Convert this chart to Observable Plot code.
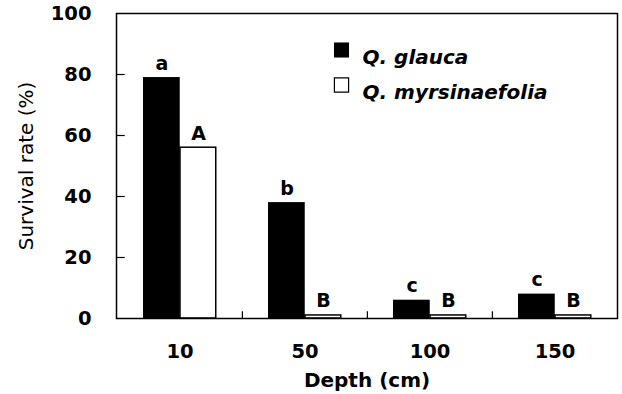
<!DOCTYPE html>
<html>
<head>
<meta charset="utf-8">
<script src="https://cdn.jsdelivr.net/npm/d3@7"></script>
<script src="https://cdn.jsdelivr.net/npm/@observablehq/plot@0.6"></script>
<style>
  html, body { margin: 0; padding: 0; background: white; }
  #chart { width: 622px; height: 394px; }
</style>
</head>
<body>
<div id="chart"></div>
<script>
// ---- data ----
const depths = ["10", "50", "100", "150"];
const species = ["Q. glauca", "Q. myrsinaefolia"];
const glaucaValues = [79, 38, 6, 8];
const myrsValues = [56, 1, 1, 1];
const glaucaLetters = ["a", "b", "c", "c"];
const myrsLetters = ["A", "B", "B", "B"];
const yTicks = [0, 20, 40, 60, 80, 100];
const xLabel = "Depth (cm)";
const yLabel = "Survival rate (%)";

const glaucaRows = depths.map((d, i) => ({depth: d, value: glaucaValues[i], letter: glaucaLetters[i]}));
const myrsRows = depths.map((d, i) => ({depth: d, value: myrsValues[i], letter: myrsLetters[i]}));

const W = 622, H = 394;
const mL = 116, mR = 5, mT = 13, mB = 76;
const band = (W - mL - mR) / depths.length;

const chart = Plot.plot({
  width: W, height: H,
  marginLeft: mL, marginRight: mR, marginTop: mT, marginBottom: mB,
  style: {fontFamily: "DejaVu Sans", fontSize: "19px", color: "black", background: "white"},
  x: {domain: depths, padding: 0},
  y: {domain: [0, 100]},
  marks: [
    Plot.barY(glaucaRows, {x: "depth", y: "value", fill: "black", insetLeft: 26, insetRight: band - 63}),
    Plot.barY(myrsRows, {x: "depth", y: "value", fill: "white", stroke: "black", strokeWidth: 1.5, insetLeft: 63, insetRight: band - 99}),
    Plot.text(glaucaRows, {x: "depth", y: "value", text: "letter", dx: -18, dy: -8, lineAnchor: "bottom", fontSize: 19, fontWeight: "bold"}),
    Plot.text(myrsRows, {x: "depth", y: "value", text: "letter", dx: 18.5, dy: -8, lineAnchor: "bottom", fontSize: 19, fontWeight: "bold"}),
    // inward category separators on the x axis
    Plot.ruleX(depths.slice(1), {x: d => d, dx: -band / 2, y1: 0, y2: 2.2, strokeWidth: 1.2}),
    // inward y ticks
    Plot.tickY(yTicks.slice(1, -1), {y: d => d, x: () => depths[0], insetRight: band - 8, strokeWidth: 1.2}),
    Plot.axisY({ticks: yTicks, tickSize: 0, tickPadding: 25, label: null, fontSize: 19.5, fontWeight: "bold"}),
    Plot.axisX({tickSize: 0, tickPadding: 26, label: null, fontSize: 19.5, fontWeight: "bold"}),
    Plot.text([yLabel], {frameAnchor: "left", textAnchor: "middle", dx: -90, rotate: -90, text: d => d, fontSize: 20}),
    Plot.text([xLabel], {frameAnchor: "bottom", dy: 68, text: d => d, fontSize: 20, fontWeight: "bold"}),
    Plot.frame({stroke: "black", strokeWidth: 1.5}),
    // legend
    Plot.dot([species[0]], {frameAnchor: "top-left", dx: 225, dy: 36.5, symbol: "square", r: 8.5, fill: "black"}),
    Plot.dot([species[1]], {frameAnchor: "top-left", dx: 225, dy: 71.5, symbol: "square", r: 8, fill: "white", stroke: "black", strokeWidth: 1.2}),
    Plot.text([species[0]], {frameAnchor: "top-left", dx: 246, dy: 36.5, text: d => d, textAnchor: "start", fontStyle: "italic", fontWeight: "bold", fontSize: 20}),
    Plot.text([species[1]], {frameAnchor: "top-left", dx: 246, dy: 71.5, text: d => d, textAnchor: "start", fontStyle: "italic", fontWeight: "bold", fontSize: 20})
  ]
});
document.getElementById("chart").appendChild(chart);
</script>
</body>
</html>
